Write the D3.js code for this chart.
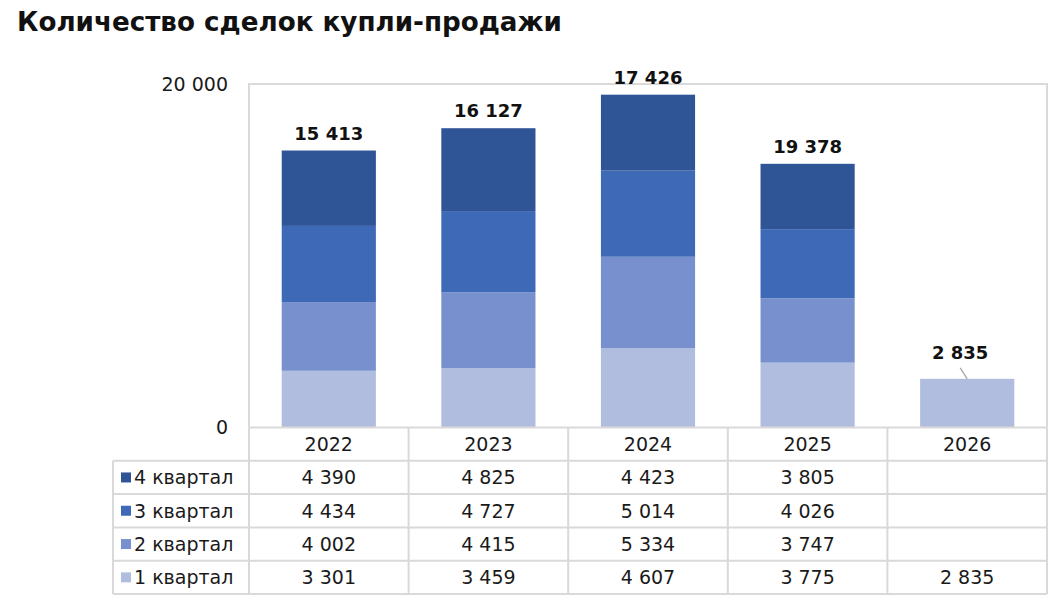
<!DOCTYPE html>
<html><head><meta charset="utf-8">
<script src="https://cdn.jsdelivr.net/npm/d3@7"></script>
<style>
html,body{margin:0;padding:0;background:#fff;}
svg{display:block;}
text{font-family:"DejaVu Sans",sans-serif;}
</style></head>
<body>
<script>
// ---- data ----
const title = "Количество сделок купли-продажи";
const years = ["2022","2023","2024","2025","2026"];
const seriesNames = ["1 квартал","2 квартал","3 квартал","4 квартал"];
const q1 = [3301,3459,4607,3775,2835];
const q2 = [4002,4415,5334,3747,null];
const q3 = [4434,4727,5014,4026,null];
const q4 = [4390,4825,4423,3805,null];
const totalLabels = ["15 413","16 127","17 426","19 378","2 835"];
const yTicks = [0,20000];
const colors = ["#B1BDDE","#7891CE","#3D69B7","#2F5597"];

(function(){
const W=1063,H=607;
const svg=d3.select("body").append("svg").attr("width",W).attr("height",H);
const loc=d3.formatLocale({decimal:",",thousands:" ",grouping:[3],currency:["",""]});
const fmt=loc.format(",d");

svg.append("text").attr("x",17).attr("y",31).text(title)
  .attr("font-size",26.2).attr("font-weight","bold").attr("fill","#111");

const pLeft=249,pRight=1047,pTop=84,pBottom=427.5;
const x=d3.scaleBand().domain(years).range([pLeft,pRight]).paddingInner(0.41).paddingOuter(0.205);
const y=d3.scaleLinear().domain([0,20000]).range([pBottom,pTop]);

const seriesData=[q1,q2,q3,q4];
const rows=years.map((yr,i)=>{const o={year:yr};seriesNames.forEach((s,k)=>o[s]=seriesData[k][i]||0);return o;});
const stack=d3.stack().keys(seriesNames)(rows);

const grid="#D9D9D9";
svg.append("path").attr("d",`M${pLeft},${pBottom}V${pTop}H${pRight}V${pBottom}`)
  .attr("fill","none").attr("stroke",grid).attr("stroke-width",2);

svg.append("g").selectAll("g").data(stack).join("g").attr("fill",(d,i)=>colors[i])
  .selectAll("rect").data(d=>d.filter(p=>p[1]>p[0])).join("rect")
  .attr("x",d=>x(d.data.year)).attr("width",x.bandwidth())
  .attr("y",d=>y(d[1])).attr("height",d=>y(d[0])-y(d[1]));

const ya=svg.append("g").attr("transform",`translate(${pLeft},0)`)
  .call(d3.axisLeft(y).tickValues(yTicks).tickSize(0).tickPadding(21).tickFormat(fmt));
ya.select(".domain").remove();
ya.selectAll("text").attr("font-size",19).attr("fill","#1a1a1a").attr("font-family","DejaVu Sans");

const totals=rows.map(r=>seriesNames.reduce((a,s)=>a+r[s],0));
years.forEach((yr,i)=>{
  const cx=x(yr)+x.bandwidth()/2;
  const topY=y(totals[i]);
  const last=i===years.length-1;
  const off=last?20:11;
  svg.append("text").attr("x",cx-(last?7:0)).attr("y",topY-off).attr("text-anchor","middle")
    .attr("font-size",18).attr("font-weight","bold").attr("fill","#111").text(totalLabels[i]);
  if(last){
    svg.append("line").attr("x1",cx-7).attr("y1",topY-11).attr("x2",cx).attr("y2",topY)
      .attr("stroke","#A6A6A6").attr("stroke-width",1.3);
  }
});

const tableLeft=113;
const rowOrder=["header","4 квартал","3 квартал","2 квартал","1 квартал"];
const ry=d3.scaleBand().domain(rowOrder).range([pBottom,594]);
const tg=svg.append("g");
rowOrder.forEach((r,i)=>{
  const yy=ry(r)+ry.bandwidth();
  tg.append("line").attr("x1",tableLeft).attr("x2",pRight).attr("y1",yy).attr("y2",yy)
    .attr("stroke",grid).attr("stroke-width",2);
});
tg.append("line").attr("x1",pLeft).attr("x2",pRight).attr("y1",pBottom).attr("y2",pBottom)
  .attr("stroke",grid).attr("stroke-width",2);
const step=x.step();
const colEdges=years.map(yr=>x(yr)+x.bandwidth()/2-step/2).concat([pRight]);
colEdges.forEach(cx=>{
  tg.append("line").attr("x1",cx).attr("x2",cx).attr("y1",pBottom).attr("y2",594)
    .attr("stroke",grid).attr("stroke-width",2);
});
tg.append("line").attr("x1",tableLeft).attr("x2",tableLeft).attr("y1",ry("4 квартал")).attr("y2",594)
  .attr("stroke",grid).attr("stroke-width",2);

years.forEach(yr=>{
  tg.append("text").attr("x",x(yr)+x.bandwidth()/2).attr("y",ry("header")+ry.bandwidth()/2+7)
    .attr("text-anchor","middle").attr("font-size",19).attr("fill","#1a1a1a").text(yr);
});
seriesNames.forEach((s,k)=>{
  const ryy=ry(s)+ry.bandwidth()/2;
  tg.append("rect").attr("x",121).attr("y",ryy-5).attr("width",10).attr("height",10).attr("fill",colors[k]);
  tg.append("text").attr("x",134).attr("y",ryy+7).attr("font-size",19).attr("fill","#1a1a1a").text(s);
  seriesData[k].forEach((v,i)=>{
    if(v==null) return;
    tg.append("text").attr("x",x(years[i])+x.bandwidth()/2).attr("y",ryy+7)
      .attr("text-anchor","middle").attr("font-size",19).attr("fill","#1a1a1a").text(fmt(v));
  });
});
})();
</script>
</body></html>
